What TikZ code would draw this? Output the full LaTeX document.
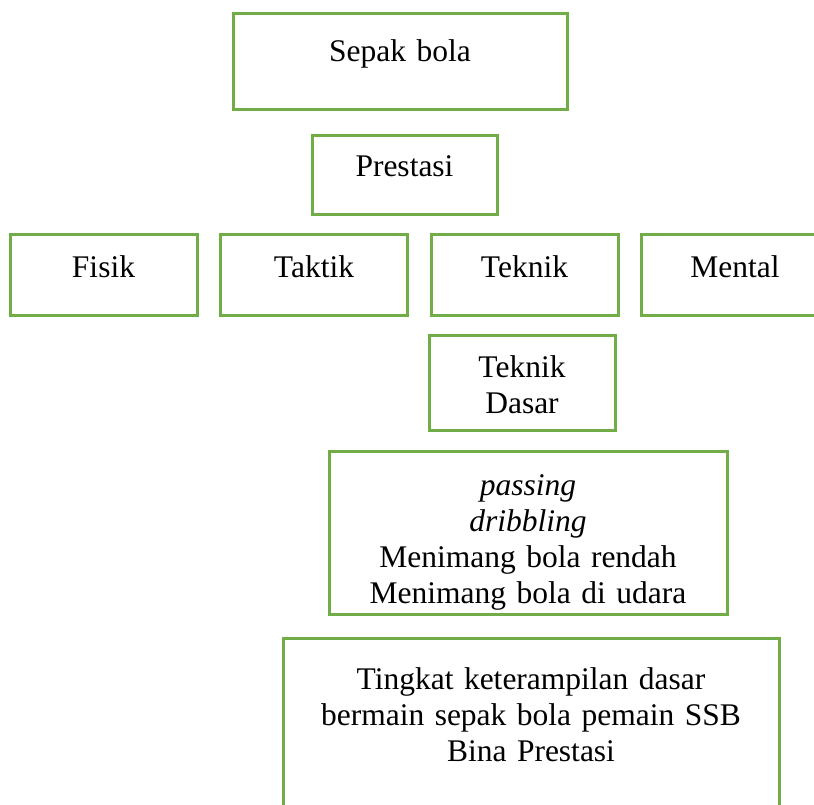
\documentclass[tikz,border=0pt]{standalone}
\usepackage{fontspec}
\setmainfont{Liberation Serif}
\usepackage{xcolor}
\usepackage{tikz}
\usetikzlibrary{positioning}
\definecolor{sbgreen}{HTML}{70AD47}
\tikzset{
  sbbox/.style={draw=sbgreen,line width=3pt,fill=white,rectangle,inner sep=0pt,outer sep=0pt,
    align=center,anchor=north west,font=\fontsize{31.5}{36}\selectfont},
  sbrow/.style={sbbox,text width=187pt,text height=42pt,text depth=38pt}
}
\begin{document}
\begin{tikzpicture}[x=1pt,y=-1pt,node distance=23.5pt]
  \useasboundingbox (0,0) rectangle (814,805);
  \node[sbbox,text width=334pt,text height=48pt,text depth=48pt] (sepak) at (233,14) {Sepak bola};
  \node[sbbox,text width=185pt,text height=41pt,text depth=38pt] (prestasi) at (312,136) {Prestasi};
  \node[sbrow] (fisik) at (10,235) {Fisik};
  \node[sbrow,right=of fisik] (taktik) {Taktik};
  \node[sbrow,right=of taktik] (teknik) {Teknik};
  \node[sbrow,right=of teknik] (mental) {Mental};
  \node[sbbox,text width=186pt,text height=42pt,text depth=53pt] (dasar) at (429,335) {Teknik\\Dasar};
  \node[sbbox,text width=398pt,text height=44pt,text depth=119pt] (drill) at (329,451)
    {\textit{passing}\\\textit{dribbling}\\Menimang bola rendah\\Menimang bola di udara};
  \node[sbbox,text width=496pt,text height=51pt,text depth=200pt] (hasil) at (283,638)
    {Tingkat keterampilan dasar\\bermain sepak bola pemain SSB\\Bina Prestasi};
\end{tikzpicture}
\end{document}
